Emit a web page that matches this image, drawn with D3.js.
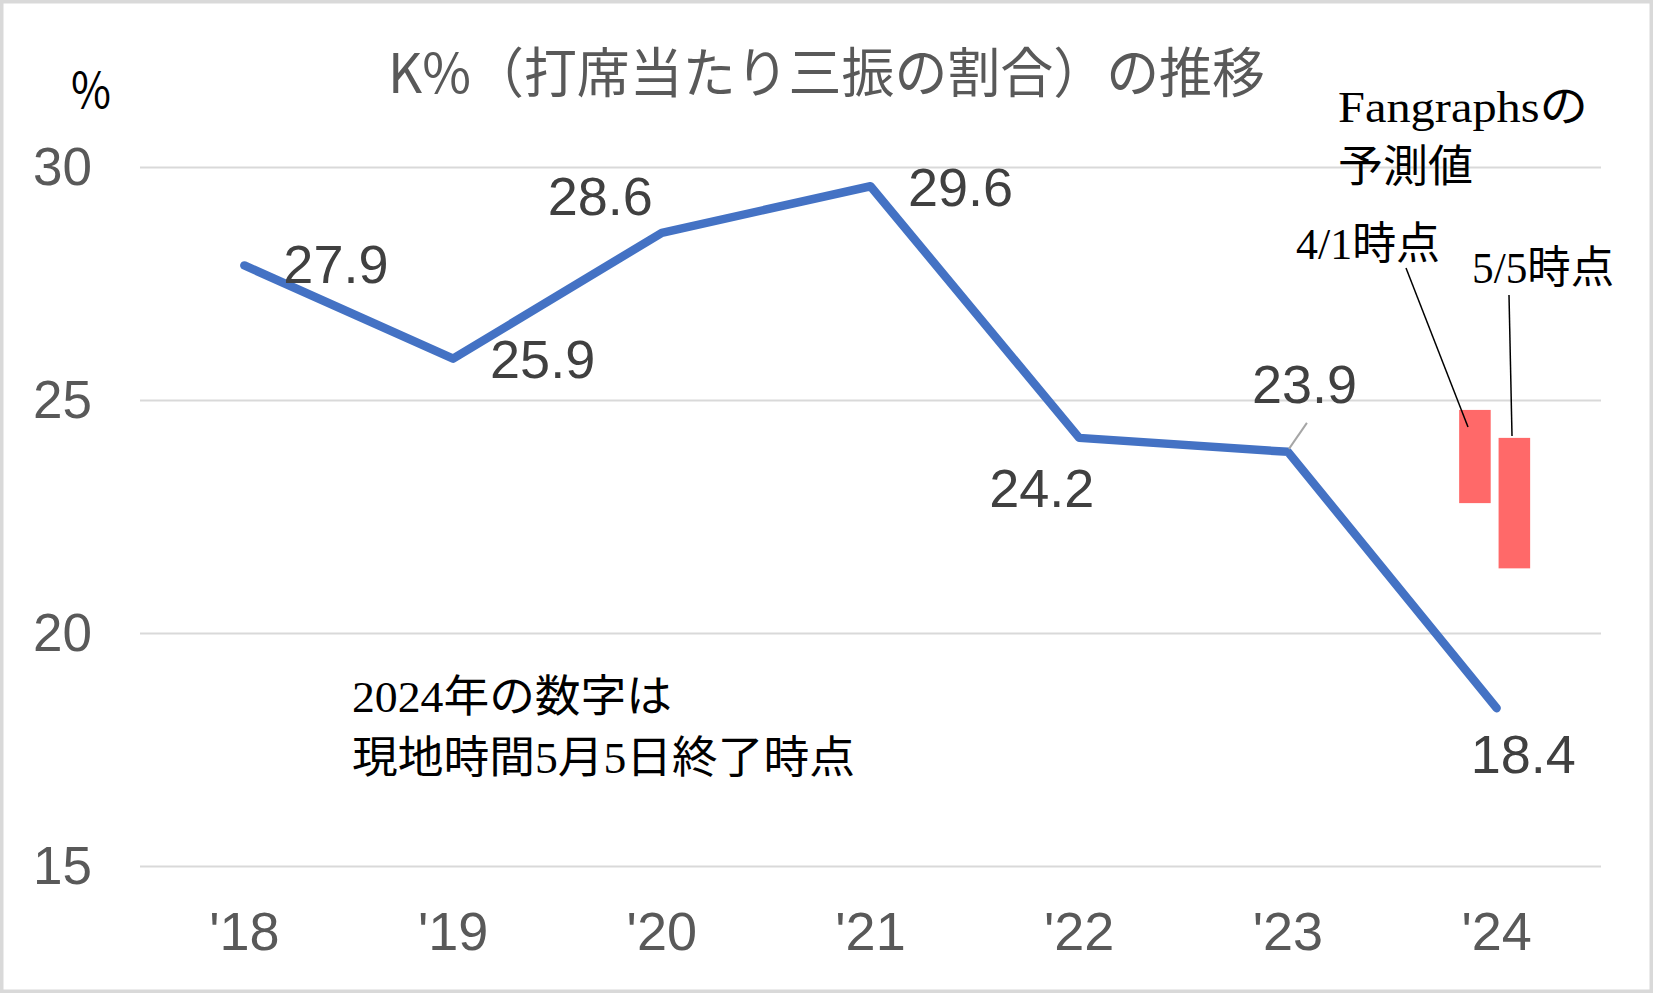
<!DOCTYPE html>
<html>
<head>
<meta charset="utf-8">
<script src="https://cdn.jsdelivr.net/npm/d3@7"></script>
<style>
  html, body { margin: 0; padding: 0; background: #fff; }
  svg { display: block; }
</style>
</head>
<body>
<script>
// ---- data ----
const categories = ["'18", "'19", "'20", "'21", "'22", "'23", "'24"];
const kPct = [27.9, 25.9, 28.6, 29.6, 24.2, 23.9, 18.4];
const yTicks = [15, 20, 25, 30];
const forecastNames = ["4/1時点", "5/5時点"];
const forecastLow = [22.8, 21.4];
const forecastHigh = [24.8, 24.2];
const titleText = "K%（打席当たり三振の割合）の推移";

// ---- layout ----
const W = 1653, H = 993;
const svg = d3.select("body").append("svg").attr("width", W).attr("height", H);

svg.append("rect").attr("x", 1.75).attr("y", 1.75).attr("width", W - 3.5).attr("height", H - 3.5)
  .attr("fill", "#fff").attr("stroke", "#d9d9d9").attr("stroke-width", 3.5);

const x = d3.scaleBand().domain(categories).range([140, 1601]).padding(0);
const y = d3.scaleLinear().domain([15, 30]).range([866.6, 167.6]);
const cx = c => x(c) + x.bandwidth() / 2;

// gridlines
svg.append("g").selectAll("line").data(yTicks).join("line")
  .attr("x1", 140).attr("x2", 1601)
  .attr("y1", d => y(d)).attr("y2", d => y(d))
  .attr("stroke", "#d9d9d9").attr("stroke-width", 2);

// y axis labels
const yAxis = d3.axisLeft(y).tickValues(yTicks).tickSize(0).tickPadding(0).tickFormat(d3.format("d"));
const gy = svg.append("g").attr("transform", "translate(92,0)").call(yAxis);
gy.select(".domain").remove();
gy.selectAll("text")
  .attr("font-family", "'Liberation Sans', Arial, sans-serif")
  .attr("font-size", 53).attr("fill", "#595959")
  .attr("dy", null).attr("y", 17).attr("x", 0).attr("text-anchor", "end");

// x axis labels
const xAxis = d3.axisBottom(x).tickSize(0).tickPadding(0);
const gx = svg.append("g").attr("transform", "translate(0,0)").call(xAxis);
gx.select(".domain").remove();
gx.selectAll("text")
  .attr("font-family", "'Liberation Sans', Arial, sans-serif")
  .attr("font-size", 54).attr("fill", "#595959")
  .attr("dy", null).attr("y", 950).attr("text-anchor", "middle");

// forecast bars
const x1 = d3.scaleBand().domain(forecastNames).range([-37.5, 33.5]).paddingInner(0.2).paddingOuter(0);
svg.append("g").selectAll("rect").data(forecastNames).join("rect")
  .attr("x", (d) => cx("'24") + x1(d))
  .attr("width", x1.bandwidth())
  .attr("y", (d, i) => y(forecastHigh[i]))
  .attr("height", (d, i) => y(forecastLow[i]) - y(forecastHigh[i]))
  .attr("fill", "#ff6969");

// main line
const line = d3.line().x((d, i) => cx(categories[i])).y(d => y(d));
svg.append("path").datum(kPct)
  .attr("d", line)
  .attr("fill", "none").attr("stroke", "#4472c4").attr("stroke-width", 8.5)
  .attr("stroke-linejoin", "round").attr("stroke-linecap", "round");

// data label leader line for '23
svg.append("line")
  .attr("x1", cx("'23") + 1).attr("y1", y(kPct[5]) - 3)
  .attr("x2", cx("'23") + 19).attr("y2", y(kPct[5]) - 29)
  .attr("stroke", "#a6a6a6").attr("stroke-width", 2);

// data labels (offsets relative to point: left x, baseline)
const labelOffsets = [[39, 18], [37, 19], [-114, -18], [37.5, 19.5], [-90, 69], [-36, -49], [-26, 65]];
svg.append("g").selectAll("text").data(kPct).join("text")
  .attr("x", (d, i) => cx(categories[i]) + labelOffsets[i][0])
  .attr("y", (d, i) => y(d) + labelOffsets[i][1])
  .attr("font-family", "'Liberation Sans', Arial, sans-serif")
  .attr("font-size", 54).attr("fill", "#404040")
  .text(d => d3.format(".1f")(d));

// title
svg.append("text")
  .attr("x", 388).attr("y", 93)
  .attr("textLength", 877).attr("lengthAdjust", "spacingAndGlyphs")
  .attr("font-family", "'Noto Sans CJK JP', sans-serif")
  .attr("font-size", 54).attr("fill", "#595959")
  .text(titleText);

// % unit
svg.append("text")
  .attr("x", 71).attr("y", 108)
  .attr("textLength", 40).attr("lengthAdjust", "spacingAndGlyphs")
  .attr("font-family", "'Noto Sans CJK JP', sans-serif")
  .attr("font-size", 49).attr("fill", "#000")
  .text("%");

// annotations
const annoFont = "'Liberation Serif', 'Noto Sans CJK JP', serif";
function anno(txt, ax, ay, len) {
  svg.append("text").attr("x", ax).attr("y", ay)
    .attr("textLength", len).attr("lengthAdjust", "spacingAndGlyphs")
    .attr("font-family", annoFont).attr("font-size", 44).attr("fill", "#000")
    .text(txt);
}
anno("Fangraphsの", 1338, 122, 250);
anno("予測値", 1338, 182, 135);
anno(forecastNames[0], 1296, 259, 144);
anno(forecastNames[1], 1472, 283, 142);
anno("2024年の数字は", 352, 712, 320);
anno("現地時間5月5日終了時点", 352, 773, 503);

// leader lines for forecast bars
svg.append("line").attr("x1", 1406).attr("y1", 268).attr("x2", 1468).attr("y2", 427)
  .attr("stroke", "#000").attr("stroke-width", 1.5);
svg.append("line").attr("x1", 1509).attr("y1", 295).attr("x2", 1512).attr("y2", 436)
  .attr("stroke", "#000").attr("stroke-width", 1.5);
</script>
</body>
</html>
